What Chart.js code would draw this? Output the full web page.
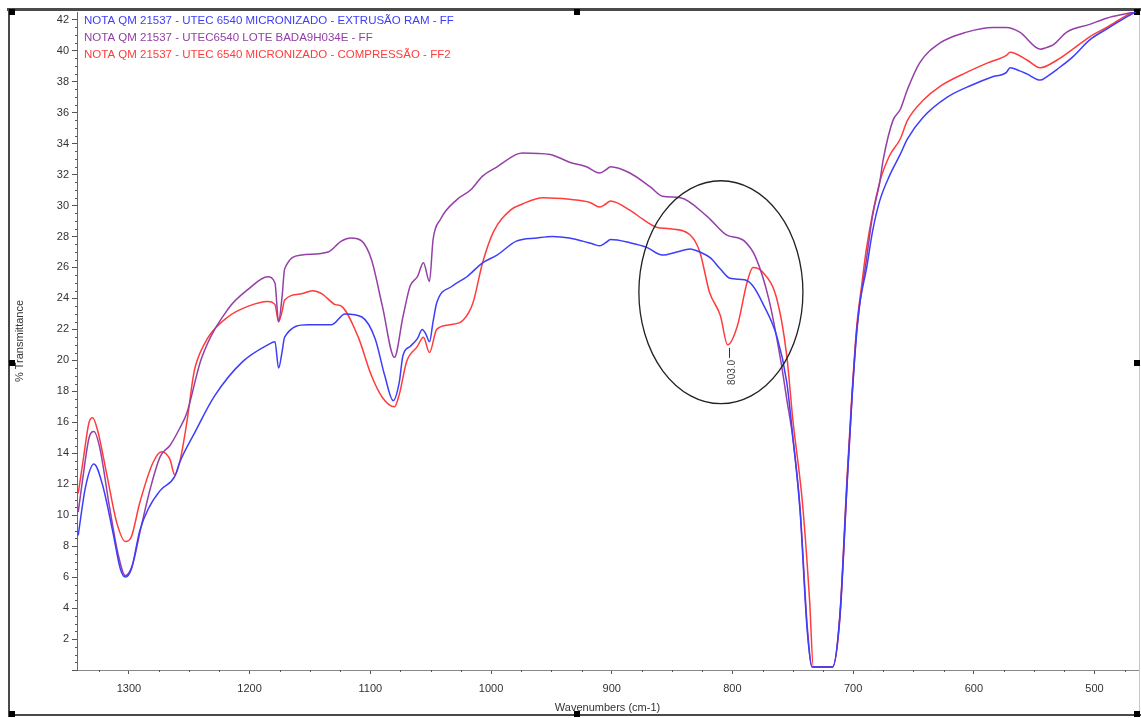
<!DOCTYPE html>
<html>
<head>
<meta charset="utf-8">
<script src="https://cdn.jsdelivr.net/npm/chart.js@4.4.0/dist/chart.umd.min.js"></script>
<style>
  html, body { margin: 0; padding: 0; background: #fff; }
  canvas { display: block; }
</style>
</head>
<body>
<canvas id="ftir" width="1141" height="718"></canvas>
<script>
// Espectros FTIR - % transmitancia x numero de onda (cm-1)
var seriesLabels = [
    "NOTA QM 21537 - UTEC 6540 MICRONIZADO - EXTRUSÃO RAM - FF",
    "NOTA QM 21537 - UTEC6540 LOTE BADA9H034E - FF",
    "NOTA QM 21537 - UTEC 6540 MICRONIZADO - COMPRESSÃO - FF2"
];
var seriesColors = ["#3d3dfa", "#9440a6", "#ff3c3c"];

var blueWave = [1342,1336,1329,1322,1313,1307,1303,1298,1291,1284,1274,1262,1258,1245,1229,1206,1185,1179,1176,1173,
    1171,1152,1132,1121,1107,1096,1088,1081,1076,1073,1067,1061,1057,1054,1051,1048,1045,1032,1020,1007,
    995,979,962,949,935,924,915,910,905,901,885,871,858,846,835,827,818,810,802,790,
    783,775,763,755,750,744,738,734,717,711,705,701,697,694,689,684,678,670,661,655,
    642,622,601,585,573,570,562,556,545,540,531,518,504,490,473,464];
var blueT = [8.7,11.8,13.3,12.0,8.8,6.5,6.0,6.5,9.0,10.4,11.6,12.5,13.4,15.4,17.7,19.9,21.0,21.2,19.5,20.6,
    21.5,22.3,22.3,23.0,22.8,21.4,19.0,17.4,18.6,20.3,20.9,21.4,22.0,21.7,21.2,22.5,23.7,24.8,25.4,26.3,
    26.8,27.7,27.9,28.0,27.9,27.7,27.5,27.4,27.6,27.8,27.6,27.3,26.8,27.0,27.2,27.0,26.6,25.9,25.3,25.2,
    24.8,23.7,21.5,18.6,15.1,10.3,2.5,0.2,0.2,3.5,12.1,17.5,21.8,23.9,25.9,28.3,30.3,31.9,33.3,34.3,
    35.7,37.0,37.8,38.3,38.6,38.9,38.7,38.5,38.1,38.3,38.8,39.6,40.7,41.4,42.2,42.6];

var purpleWave = [1342,1338,1333,1329,1324,1316,1309,1303,1297,1290,1282,1274,1266,1258,1252,1240,1218,1201,1185,1179,
    1176,1173,1171,1157,1135,1124,1116,1107,1099,1090,1080,1073,1067,1061,1056,1051,1048,1042,1028,1017,
    1007,995,979,974,951,935,921,910,905,901,885,868,858,843,821,805,795,790,781,770,
    760,755,750,744,738,734,717,711,705,701,697,689,684,678,675,667,661,655,645,628,
    606,584,573,562,545,540,534,523,504,490,468,464];
var purpleT = [10.2,12.5,15.0,15.4,14.3,10.5,7.5,6.1,6.8,9.2,11.8,13.8,14.5,15.6,16.6,20.1,23.3,24.6,25.4,25.0,
    22.5,24.2,25.9,26.8,27.0,27.7,27.9,27.7,26.5,23.5,20.2,22.8,24.8,25.4,26.3,25.1,27.8,29.1,30.4,31.0,
    31.9,32.5,33.3,33.4,33.3,32.8,32.5,32.1,32.3,32.5,32.1,31.2,30.6,30.5,29.3,28.1,27.9,27.7,26.7,24.0,
    20.0,17.5,15.0,10.5,2.8,0.2,0.2,3.3,12.0,17.5,22.0,26.5,29.3,31.5,33.0,35.5,36.2,37.5,39.2,40.5,
    41.2,41.5,41.5,41.2,40.1,40.2,40.4,41.2,41.7,42.1,42.5,42.6];

var redWave = [1342,1338,1333,1330,1326,1318,1310,1303,1298,1291,1280,1273,1266,1262,1258,1252,1247,1245,1235,1218,
    1201,1185,1179,1176,1173,1171,1157,1148,1140,1129,1124,1110,1099,1090,1080,1076,1070,1061,1056,1051,
    1045,1034,1023,1015,1007,998,984,974,957,935,918,910,905,901,885,874,863,852,835,827,
    819,810,804,796,788,783,775,763,755,750,742,736,733,717,711,705,701,697,693,689,
    678,670,661,655,642,628,606,589,573,570,556,545,531,518,504,490,468,464];
var redT = [11.4,13.5,16.0,16.3,15.5,12.5,9.5,8.3,8.6,10.8,13.4,14.1,13.6,12.6,13.4,16.0,18.8,19.6,21.4,22.8,
    23.5,23.8,23.6,22.5,23.2,23.9,24.3,24.5,24.3,23.6,23.5,21.5,19.0,17.6,17.0,17.8,19.9,20.9,21.5,20.5,
    22.0,22.3,22.6,23.7,26.3,28.3,29.7,30.1,30.5,30.4,30.2,29.9,30.1,30.3,29.7,29.1,28.6,28.5,28.1,27.0,
    24.4,22.9,21.0,22.2,25.0,26.0,25.7,23.9,20.3,16.2,10.8,4.4,0.2,0.2,3.5,12.5,17.8,22.2,24.8,27.2,
    31.5,33.2,34.3,35.5,36.8,37.7,38.6,39.2,39.7,39.9,39.4,38.9,39.4,40.1,40.9,41.5,42.5,42.6];

// eixos
var waveMin = 464, waveMax = 1343;
var transMin = 0, transMax = 42.5;

// pico marcado e elipse de destaque
var peakWave = 803.0, peakT = 21.0;
var ellipseWave = [877.5, 741.6];
var ellipseT = [31.6, 17.2];

function toPoints(w, t) {
    var pts = [];
    for (var i = 0; i < w.length; i++) pts.push({ x: w[i], y: t[i] });
    return pts;
}

var narrow = "'Liberation Sans Narrow', 'Liberation Sans', Arial, sans-serif";

var decor = {
    id: "decor",
    beforeDraw: function (chart) {
        var c = chart.ctx;
        c.save();
        c.fillStyle = "#fff";
        c.fillRect(0, 0, chart.width, chart.height);
        // moldura
        c.fillStyle = "#4a4a4a";
        c.fillRect(7, 8, 1134, 3);
        c.fillRect(8, 8, 2, 709);
        c.fillRect(8, 714, 1133, 2);
        c.fillStyle = "#c8c8c8";
        c.fillRect(1139, 11, 1, 703);
        c.fillStyle = "#000";
        [[12, 12], [577, 12], [1137, 12], [12, 363], [1137, 363], [12, 714], [577, 714], [1137, 714]].forEach(function (p) {
            c.fillRect(p[0] - 3, p[1] - 3, 6, 6);
        });
        c.restore();
    },
    afterDraw: function (chart) {
        var c = chart.ctx;
        var xs = chart.scales.x, ys = chart.scales.y;
        var area = chart.chartArea;
        c.save();
        // ticks menores
        c.strokeStyle = "#555";
        c.lineWidth = 1;
        c.beginPath();
        for (var v = 0.5; v < transMax; v += 0.5) {
            if (v % 2 === 0) continue;
            var py = Math.round(ys.getPixelForValue(v)) + 0.5;
            c.moveTo(area.left - 2, py);
            c.lineTo(area.left, py);
        }
        for (var w = 475; w <= waveMax; w += 25) {
            if (w % 100 === 0) continue;
            var px = Math.round(xs.getPixelForValue(w)) + 0.5;
            c.moveTo(px, area.bottom);
            c.lineTo(px, area.bottom + 2);
        }
        c.stroke();

        // elipse
        var x1 = xs.getPixelForValue(ellipseWave[0]), x2 = xs.getPixelForValue(ellipseWave[1]);
        var y1 = ys.getPixelForValue(ellipseT[0]), y2 = ys.getPixelForValue(ellipseT[1]);
        c.strokeStyle = "#222";
        c.lineWidth = 1.3;
        c.beginPath();
        c.ellipse((x1 + x2) / 2, (y1 + y2) / 2, Math.abs(x2 - x1) / 2, Math.abs(y2 - y1) / 2, 0, 0, Math.PI * 2);
        c.stroke();

        // rotulo do pico
        var ppx = xs.getPixelForValue(peakWave), ppy = ys.getPixelForValue(peakT);
        c.strokeStyle = "#333";
        c.lineWidth = 1;
        c.beginPath();
        c.moveTo(Math.round(ppx) + 0.5, ppy + 3);
        c.lineTo(Math.round(ppx) + 0.5, ppy + 13);
        c.stroke();
        c.translate(ppx + 3, ppy + 15);
        c.rotate(-Math.PI / 2);
        c.fillStyle = "#444";
        c.font = "10px " + narrow;
        c.textAlign = "right";
        c.textBaseline = "middle";
        c.fillText(peakWave.toFixed(1), 0, 0);
        c.setTransform(1, 0, 0, 1, 0, 0);

        // legenda
        c.font = "11.5px 'Liberation Sans', Arial, sans-serif";
        c.textAlign = "left";
        c.textBaseline = "middle";
        chart.data.datasets.forEach(function (ds, i) {
            c.fillStyle = ds.borderColor;
            c.fillText(ds.label, area.left + 7, 21 + i * 17);
        });
        c.restore();
    }
};

var ctx = document.getElementById("ftir").getContext("2d");
var chart = new Chart(ctx, {
    type: "line",
    data: {
        datasets: [
            { label: seriesLabels[0], data: toPoints(blueWave, blueT), borderColor: seriesColors[0] },
            { label: seriesLabels[1], data: toPoints(purpleWave, purpleT), borderColor: seriesColors[1] },
            { label: seriesLabels[2], data: toPoints(redWave, redT), borderColor: seriesColors[2] }
        ]
    },
    options: {
        responsive: false,
        devicePixelRatio: 1,
        animation: false,
        parsing: false,
        layout: { padding: { left: 0, top: 12, right: 3, bottom: 0 } },
        elements: {
            line: { borderWidth: 1.5, cubicInterpolationMode: "monotone", fill: false },
            point: { radius: 0 }
        },
        plugins: {
            legend: { display: false },
            tooltip: { enabled: false }
        },
        scales: {
            x: {
                type: "linear",
                reverse: true,
                min: waveMin,
                max: waveMax,
                afterFit: function (s) { s.height = 48; },
                grid: { drawOnChartArea: false, tickLength: 4, color: "#555" },
                border: { color: "#888", width: 1 },
                ticks: {
                    stepSize: 100,
                    includeBounds: false,
                    padding: 8,
                    color: "#333",
                    font: { family: narrow, size: 11 },
                    maxRotation: 0,
                    callback: function (v) { return String(v); }
                },
                title: {
                    display: true,
                    text: "Wavenumbers (cm-1)",
                    color: "#333",
                    font: { family: narrow, size: 11 },
                    padding: { top: 0, bottom: 3 }
                }
            },
            y: {
                min: transMin,
                max: transMax,
                afterFit: function (s) { s.width = 77; },
                grid: { drawOnChartArea: false, tickLength: 5, color: "#555" },
                border: { color: "#666", width: 1 },
                ticks: {
                    stepSize: 2,
                    includeBounds: false,
                    padding: 3,
                    color: "#333",
                    font: { family: narrow, size: 11 },
                    callback: function (v) { return v === 0 ? "" : String(v); }
                },
                title: {
                    display: true,
                    text: "% Transmittance",
                    color: "#333",
                    font: { family: narrow, size: 11 },
                    padding: { top: 13, bottom: 0 }
                }
            }
        }
    },
    plugins: [decor]
});
</script>
</body>
</html>
